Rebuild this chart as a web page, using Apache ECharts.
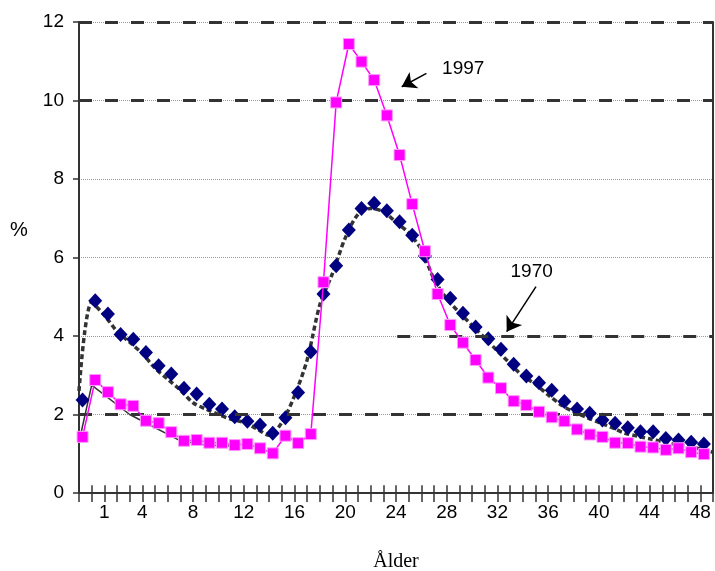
<!DOCTYPE html>
<html>
<head>
<meta charset="utf-8">
<script src="https://cdn.jsdelivr.net/npm/echarts@6/dist/echarts.min.js"></script>
<style>
html,body{margin:0;padding:0;background:#fff;}
#c{width:715px;height:571px;}
</style>
</head>
<body>
<div id="c"></div>
<script>
// Age positions (the first point sits one step before age 0)
const ages = [-1,0,1,2,3,4,5,6,7,8,9,10,11,12,13,14,15,16,17,18,19,20,21,22,23,24,25,26,27,28,29,30,31,32,33,34,35,36,37,38,39,40,41,42,43,44,45,46,47,48];
const trendAges = [-1,0,1,2,3,4,5,6,7,8,9,10,11,12,13,14,15,16,17,18,19,20,21,22,23,24,25,26,27,28,29,30,31,32,33,34,35,36,37,38,39,40,41,42,43,44,45,46,47,48,49];
const xTickLabels = [1,4,8,12,16,20,24,28,32,36,40,44,48];

// 1970 – diamonds
const v1970 = [2.37,4.90,4.56,4.04,3.92,3.58,3.24,3.03,2.67,2.52,
               2.26,2.14,1.94,1.83,1.73,1.52,1.92,2.56,3.60,5.07,
               5.79,6.70,7.25,7.38,7.19,6.91,6.57,6.04,5.44,4.96,
               4.58,4.23,3.93,3.66,3.28,2.98,2.81,2.62,2.33,2.14,
               2.03,1.86,1.78,1.66,1.56,1.56,1.39,1.35,1.29,1.25];
// 1997 – squares
const v1997 = [1.43,2.88,2.57,2.26,2.22,1.84,1.78,1.55,1.33,1.35,
               1.28,1.28,1.22,1.25,1.14,1.01,1.46,1.27,1.50,5.37,
               9.95,11.44,10.99,10.52,9.62,8.61,7.36,6.16,5.07,4.28,
               3.83,3.39,2.94,2.67,2.34,2.24,2.07,1.93,1.83,1.62,
               1.49,1.43,1.28,1.27,1.18,1.16,1.10,1.14,1.04,0.99];
// dotted curve (1970 trend)
const trend1970 = [2.6,4.85,4.53,4.12,3.84,3.55,3.18,2.9,2.62,2.3,
                   2.14,2.0,1.88,1.8,1.64,1.47,1.8,2.48,3.4,4.8,
                   5.6,6.5,7.1,7.25,7.17,6.9,6.63,6.2,5.45,4.95,
                   4.6,4.27,3.95,3.62,3.3,2.98,2.77,2.5,2.25,2.07,
                   1.93,1.8,1.67,1.53,1.45,1.38,1.31,1.24,1.19,1.12,1.04];
// thin black line (1997, early ages)
const trend1997 = [1.3,2.75,null,null,2.0,null,null,null,1.33,null,1.22,null,1.2];

const yTicks = {min:0, max:12, step:2};
const dashedLevels = [2,10,12];

const FONT = 'Liberation Sans';
const GRID = {left:79, right:2, top:22, bottom:78};
const chart = echarts.init(document.getElementById('c'));

const pair = (xs, ys) => ys.map((v,i)=>[xs[i], v]);

// upper half of the crossing x-axis ticks (one short stub per tick value)
const upTicks = trendAges.map(a => [
  {coord:[a, 0], lineStyle:{type:'solid', width:1.5, color:'#333'}},
  {coord:[a, 0.2]}
]);

chart.setOption({
  animation:false,
  backgroundColor:'#fff',
  grid:Object.assign({containLabel:false, outerBoundsMode:'none'}, GRID),
  xAxis:[
    {type:'value', min:-1, max:49, interval:1, position:'bottom',
     axisLine:{show:true, onZero:false, lineStyle:{color:'#333', width:2}},
     axisTick:{show:true, inside:false, length:9, lineStyle:{color:'#333', width:1.5}},
     axisLabel:{show:true, margin:10, fontSize:19, color:'#000', fontFamily:FONT,
       formatter:v => xTickLabels.indexOf(v) >= 0 ? String(v) : ''},
     splitLine:{show:false},
     name:'Ålder', nameLocation:'middle', nameGap:59,
     nameTextStyle:{fontFamily:'Liberation Serif', fontSize:20, color:'#000'}},
    {type:'value', min:-1.28, max:48.72, show:false}
  ],
  yAxis:[
    {type:'value', min:yTicks.min, max:yTicks.max, interval:yTicks.step,
     axisLine:{show:true, onZero:false, lineStyle:{color:'#333', width:2}},
     axisTick:{show:true, inside:false, length:6, lineStyle:{color:'#333', width:1.5}},
     axisLabel:{margin:15, fontSize:19, color:'#000', fontFamily:FONT},
     splitLine:{show:true, lineStyle:{color:'#999', type:'dotted', width:1}}},
    {type:'value', min:yTicks.min, max:yTicks.max, position:'right',
     axisLine:{show:true, onZero:false, lineStyle:{color:'#333', width:2}},
     axisTick:{show:false}, axisLabel:{show:false}, splitLine:{show:false}}
  ],
  series:[
    {name:'1970 trend', type:'line', xAxisIndex:0, yAxisIndex:0,
     data:pair(trendAges, trend1970), smooth:0.3, showSymbol:false, symbol:'none',
     lineStyle:{color:'#333', width:3.5, type:[5,3]}, z:2,
     markLine:{silent:true, symbol:['none','none'], label:{show:false},
       lineStyle:{color:'#333', width:3, type:[13,13]},
       data: dashedLevels.map(v=>({yAxis:v}))
               .concat([[{coord:[24.1,4]},{coord:[49,4]}]])
               .concat(upTicks)}
    },
    {name:'1997 trend', type:'line', xAxisIndex:0, yAxisIndex:0,
     data:pair(trendAges, trend1997), connectNulls:true, showSymbol:false, symbol:'none',
     lineStyle:{color:'#333', width:1.5}, z:3,
     markLine:{silent:true, symbol:['none','arrow'], symbolSize:14, label:{show:false},
       lineStyle:{color:'#000', width:1.5, type:'solid'},
       data:[
         [{coord:[26.4,10.69]},{coord:[24.45,10.35]}],
         [{coord:[35.04,5.26]},{coord:[32.73,4.11]}]
       ]},
     markPoint:{silent:true, symbol:'circle', symbolSize:0,
       label:{show:true, position:'inside', fontSize:19, color:'#000', fontFamily:FONT},
       data:[
         {coord:[29.3,10.82], value:'1997', label:{formatter:'1997'}},
         {coord:[34.7,5.64], value:'1970', label:{formatter:'1970'}}
       ]}
    },
    {name:'1970', type:'scatter', xAxisIndex:1, yAxisIndex:0,
     data:pair(ages, v1970), symbol:'diamond', symbolSize:[14,15],
     itemStyle:{color:'#000080', opacity:1}, z:4},
    {name:'1997', type:'line', xAxisIndex:1, yAxisIndex:0,
     data:pair(ages, v1997), symbol:'rect', symbolSize:11, showSymbol:true,
     itemStyle:{color:'#FF00FF', borderColor:'#FF99FF', borderWidth:1},
     lineStyle:{color:'#FF00FF', width:1.5}, z:5}
  ]
});

// y-axis title "%" placed beside the axis, slightly above the 6 level
const pctY = chart.convertToPixel({yAxisIndex:0}, 6.65);
chart.setOption({
  graphic:[{type:'text', left:10, top:pctY - 12,
    style:{text:'%', fontSize:20, fill:'#000', fontFamily:FONT}}]
});
</script>
</body>
</html>
